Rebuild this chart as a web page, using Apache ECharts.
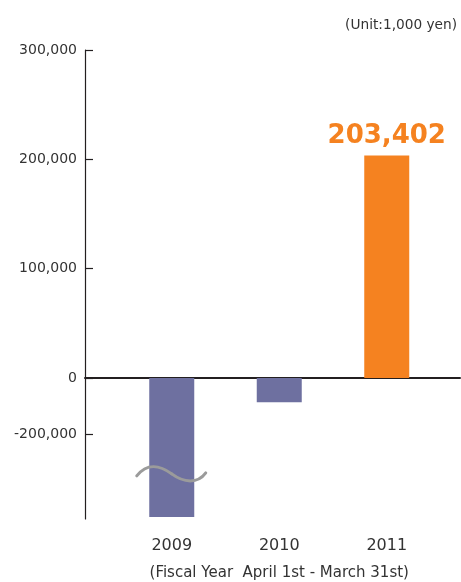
<!DOCTYPE html>
<html>
<head>
<meta charset="utf-8">
<script src="https://cdn.jsdelivr.net/npm/echarts@6/dist/echarts.min.js"></script>
<style>
html,body{margin:0;padding:0;background:#fff;}
#chart{width:461px;height:582px;}
</style>
</head>
<body>
<div id="chart"></div>
<script>
// ---- data ----
var categories = ['2009', '2010', '2011'];
var values = [-493000, -86000, 203402];
var posTicks = [0, 100000, 200000, 300000];
var negTicks = [-200000];
var unitText = '(Unit:1,000 yen)';
var periodText = '(Fiscal Year  April 1st - March 31st)';
var highlightIndex = 2;

var FONT = 'DejaVu Sans';
var PURPLE = '#6e70a0';
var ORANGE = '#f58220';

function fmt(v) { return Number(v).toLocaleString('en-US'); }

var posData = values.map(function (v, i) {
  return v >= 0 ? { value: v, itemStyle: { color: i === highlightIndex ? ORANGE : PURPLE } } : '-';
});
var negData = values.map(function (v) { return v < 0 ? v : '-'; });

var chart = echarts.init(document.getElementById('chart'), null, { renderer: 'canvas' });

var option = {
  animation: false,
  backgroundColor: '#fff',
  title: {
    text: unitText, right: 4, top: 18, padding: 0,
    textStyle: { fontFamily: FONT, fontSize: 13.7, fontWeight: 'normal', color: '#333' }
  },
  grid: [
    { left: 118, right: 20.5, top: 50, height: 328 },
    { left: 118, right: 20.5, top: 378, height: 144 },
    { left: 85, right: 1, top: 370, height: 8 }
  ],
  xAxis: [
    { type: 'category', gridIndex: 0, data: categories, show: false },
    {
      type: 'category', gridIndex: 1, data: categories,
      axisLine: { show: false }, axisTick: { show: false },
      axisLabel: { margin: 19, fontFamily: FONT, fontSize: 16, color: '#333' },
      name: periodText, nameLocation: 'middle', nameGap: 47,
      nameTextStyle: { fontFamily: FONT, fontSize: 15, color: '#333' }
    },
    {
      type: 'category', gridIndex: 2, data: [''],
      axisLine: { show: true, lineStyle: { color: '#231f20', width: 2 } },
      axisTick: { show: false }, axisLabel: { show: false }
    }
  ],
  yAxis: [
    {
      type: 'value', gridIndex: 0, min: 0, max: 300000, interval: 100000, offset: 33,
      splitLine: { show: false },
      axisLine: { show: true, lineStyle: { color: '#231f20', width: 1.2 } },
      axisTick: { show: true, inside: true, length: 8, lineStyle: { color: '#231f20', width: 1.2 }, customValues: posTicks },
      axisLabel: { margin: 8, fontFamily: FONT, fontSize: 14, color: '#333', formatter: fmt, customValues: posTicks }
    },
    {
      type: 'value', gridIndex: 1, min: -500000, max: 0, interval: 100000, offset: 33,
      splitLine: { show: false },
      axisLine: { show: true, lineStyle: { color: '#231f20', width: 1.2 } },
      axisTick: { show: true, inside: true, length: 8, lineStyle: { color: '#231f20', width: 1.2 }, customValues: negTicks },
      axisLabel: { margin: 8, fontFamily: FONT, fontSize: 14, color: '#333', formatter: fmt, customValues: negTicks }
    },
    { type: 'value', gridIndex: 2, show: false }
  ],
  series: [
    {
      type: 'bar', xAxisIndex: 0, yAxisIndex: 0, data: posData, barWidth: 45,
      itemStyle: { color: PURPLE },
      label: {
        show: true, position: 'top', distance: 6,
        formatter: function (p) { return fmt(p.value); },
        fontFamily: FONT, fontSize: 26, fontWeight: 'bold', color: ORANGE
      },
      z: 1
    },
    {
      type: 'bar', xAxisIndex: 1, yAxisIndex: 1, data: negData, barWidth: 45,
      itemStyle: { color: PURPLE }, z: 1
    }
  ]
};
chart.setOption(option);

// break-mark (wave) across the truncated 2009 bar
var c = chart.convertToPixel({ xAxisIndex: 1, yAxisIndex: 1 }, [categories[0], -340000]);
var cx = c[0], cy = c[1];
chart.setOption({
  graphic: [
    {
      type: 'bezierCurve', z: 100,
      shape: { x1: cx - 35, y1: cy + 2, cpx1: cx - 25, cpy1: cy - 11, cpx2: cx - 12, cpy2: cy - 9, x2: cx, y2: cy },
      style: { stroke: '#9b9b9b', lineWidth: 3, fill: null, lineCap: 'round' }
    },
    {
      type: 'bezierCurve', z: 100,
      shape: { x1: cx, y1: cy, cpx1: cx + 12, cpy1: cy + 9, cpx2: cx + 26, cpy2: cy + 10, x2: cx + 34, y2: cy - 1 },
      style: { stroke: '#9b9b9b', lineWidth: 3, fill: null, lineCap: 'round' }
    }
  ]
});
</script>
</body>
</html>
